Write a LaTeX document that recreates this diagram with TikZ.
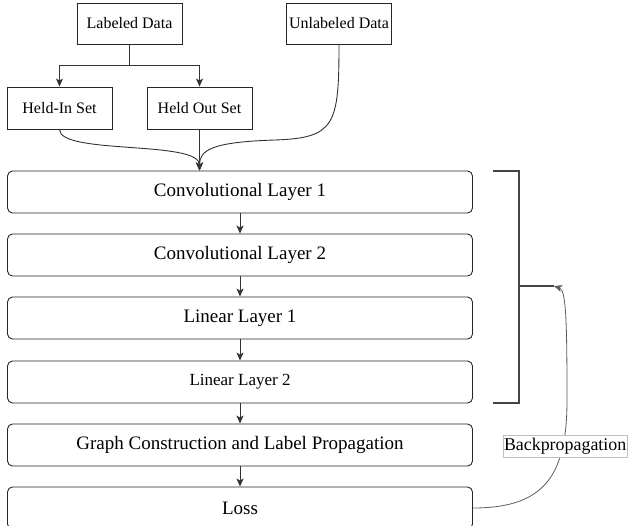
\documentclass[tikz,border=0pt]{standalone}
\usepackage{fontspec}
\setmainfont{Liberation Serif}
\usetikzlibrary{arrows.meta}
\definecolor{edge}{HTML}{333333}
\definecolor{brk}{HTML}{444444}
\begin{document}
\begin{tikzpicture}[x=1pt,y=-1pt,
  box/.style={draw=black!85,line width=0.9pt,inner sep=0pt,minimum width=105pt,minimum height=41pt,font=\fontsize{16}{19}\selectfont},
  layer/.style={draw=black!85,line width=0.9pt,rounded corners=5pt,inner sep=0pt,minimum width=465pt,minimum height=42pt,font=\fontsize{19}{22}\selectfont},
  conn/.style={draw=edge,line width=0.9pt,-{Stealth[length=8pt,width=7pt,inset=2pt]}},
  bracket/.style={draw=brk,line width=2.8pt}
]
\useasboundingbox (0,0) rectangle (631,526);
\clip (0,0) rectangle (631,526);
% top boxes
\node[box] (lab) at (129.5,23.5) {Labeled Data};
\node[box] (unl) at (339,23.5) {Unlabeled Data};
\node[box,minimum height=42pt] (hin) at (59.5,108) {Held-In Set};
\node[box,minimum height=42pt] (hout) at (199.5,108) {Held Out Set};
% layer stack
\node[layer] (c1) at (240,192) {Convolutional Layer 1};
\node[layer] (c2) at (240,255) {Convolutional Layer 2};
\node[layer] (l1) at (240,318) {Linear Layer 1};
\node[layer,font=\fontsize{17}{20}\selectfont] (l2) at (240,382) {Linear Layer 2};
\node[layer] (g) at (240,445) {Graph Construction and Label Propagation};
\node[layer] (loss) at (240,508) {Loss};
% split arrows
\coordinate (split) at (129.5,65);
\draw[draw=edge,line width=0.9pt] (lab.south) -- (split);
\draw[conn] (split) -| (hin.north);
\draw[conn] (split) -| (hout.north);
% merge into conv 1
\draw[conn] (hin.south) .. controls (59.5,155) and (199.5,140) .. (c1.north -| hout.south);
\draw[conn] (hout.south) -- (c1.north -| hout.south);
\draw[conn] (unl.south) .. controls (339,125) and (335,138) .. (275,140) .. controls (212,142) and (199.5,150) .. (c1.north -| hout.south);
% chain
\draw[conn] (c1) -- (c2);
\draw[conn] (c2) -- (l1);
\draw[conn] (l1) -- (l2);
\draw[conn] (l2) -- (g);
\draw[conn] (g) -- (loss);
% bracket
\coordinate (bt) at (493,171);
\coordinate (bb) at (493,403);
\coordinate (bm) at (519,286);
\coordinate (btip) at (554,286);
\draw[bracket] (bt) -- (519,171) -- (519,403) -- (bb);
\draw[bracket] (bm) -- (btip);
% backpropagation
\draw[draw=edge!80,line width=0.8pt,-{Stealth[length=8pt,width=7pt,inset=2pt]}]
  (loss.east) .. controls (545,508) and (567,475) .. (567,400)
  .. controls (567,320) and (566,290) .. (btip);
\node[draw=black!25,fill=white,line width=0.6pt,anchor=west,inner sep=1.2pt,minimum height=22pt,font=\fontsize{17.9}{21}\selectfont] (bp) at (502.5,446) {Backpropagation};
\end{tikzpicture}
\end{document}
